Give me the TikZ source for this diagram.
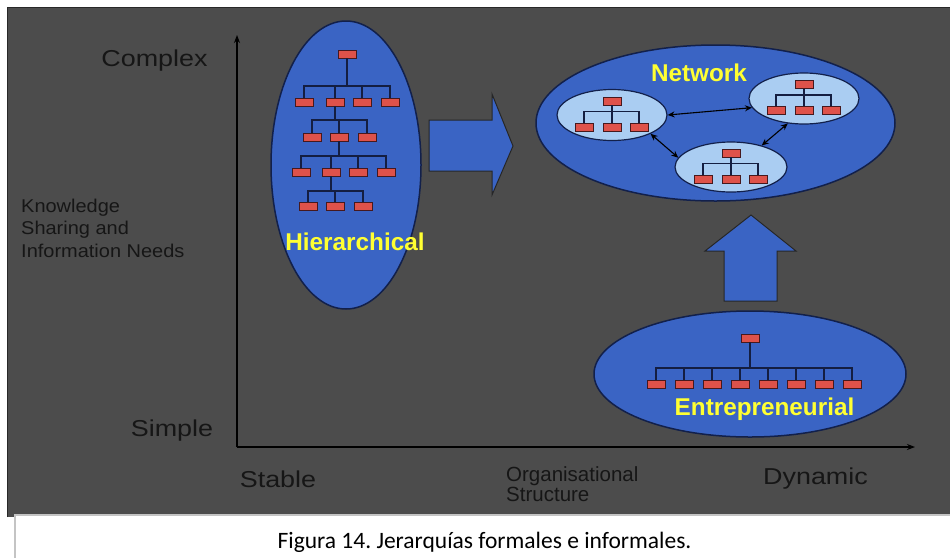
\documentclass[tikz,border=0pt]{standalone}
\usepackage{graphicx}
\usepackage{fontspec}
\setmainfont{Liberation Sans}
\newfontfamily\captionfont{Carlito}
\usetikzlibrary{arrows.meta,shapes.geometric}
\frenchspacing

\definecolor{panelgray}{RGB}{76,76,76}
\definecolor{paneledge}{RGB}{40,40,40}
\definecolor{capedge}{RGB}{196,196,196}
\definecolor{ovalblue}{RGB}{58,100,196}
\definecolor{ovaledge}{RGB}{18,32,75}
\definecolor{paleblue}{RGB}{170,205,242}
\definecolor{boxred}{RGB}{222,82,74}
\definecolor{boxedge}{RGB}{70,25,30}
\definecolor{linenavy}{RGB}{20,30,65}
\definecolor{titleyellow}{RGB}{255,255,50}
\definecolor{labelink}{RGB}{22,22,22}

\newcommand{\widetext}[1]{\scalebox{1.17}[1]{#1}}
\newcommand{\smallwide}[1]{\scalebox{1.08}[1]{#1}}

\tikzset{
  orgbox/.style={rectangle, minimum width=18pt, minimum height=8pt, inner sep=0pt,
    fill=boxred, draw=boxedge, line width=0.8pt},
  orgline/.style={draw=linenavy, line width=1.3pt},
  bigoval/.style={ellipse, fill=ovalblue, draw=ovaledge, line width=1.5pt, inner sep=0pt},
  suboval/.style={ellipse, fill=paleblue, draw=ovaledge, line width=1.2pt, inner sep=0pt,
    minimum width=110pt, minimum height=51pt},
  ovaltitle/.style={text=titleyellow, font=\bfseries\fontsize{24.3}{28}\selectfont, inner sep=0pt},
  axislabel/.style={text=labelink, font=\fontsize{23}{27}\selectfont, inner sep=0pt},
  smalllabel/.style={text=labelink, inner sep=0pt, align=left},
  blockarrow/.style={fill=ovalblue, draw=black!85, line width=1pt, line join=miter},
  link/.style={{Stealth[length=7pt,width=6pt]}-{Stealth[length=7pt,width=6pt]}, line width=1.1pt, black},
  axisline/.style={-{Stealth[length=8pt,width=6pt]}, line width=1.1pt, black},
}

\begin{document}
\begin{tikzpicture}[x=1pt,y=-1pt]
\useasboundingbox (0,0) rectangle (950,558);
\fill[white] (0,0) rectangle (950,558);

% dark panel
\fill[panelgray] (7,7) rectangle (950,517);
\draw[paneledge, line width=1pt] (7.5,517) -- (7.5,7.5) -- (950,7.5);

% axes
\coordinate (origin) at (237,447);
\coordinate (ytip) at (237,35);
\coordinate (xtip) at (915,447);
\draw[axisline] (origin) -- (ytip);
\draw[axisline] (origin) -- (xtip);

% axis labels
\node[axislabel, anchor=base] (complex) at (154.5,66) {\widetext{Complex}};
\node[axislabel, anchor=base] (simple) at (172,436) {\widetext{Simple}};
\node[axislabel, anchor=base] (stable) at (278,487) {\widetext{Stable}};
\node[axislabel, anchor=base] (dynamic) at (815.5,484.5) {\widetext{Dynamic}};
\node[smalllabel, font=\fontsize{18.5}{22.2}\selectfont, anchor=north west] (ylabel) at (21,199)
  {\smallwide{Knowledge}\\\smallwide{Sharing and}\\\smallwide{Information Needs}};
\node[smalllabel, font=\fontsize{20.5}{20}\selectfont, anchor=north west] (xlabel) at (506,466)
  {Organisational\\Structure};

% ---------- hierarchical organisation ----------
\node[bigoval, minimum width=150pt, minimum height=288pt] (hier) at (346,165) {};

\node[orgbox] (h0) at (347,54) {};
\coordinate (hj0) at (347,86);
\node[orgbox] (h1a) at (304,102) {};
\node[orgbox] (h1b) at (335,102) {};
\node[orgbox] (h1c) at (362,102) {};
\node[orgbox] (h1d) at (390,102) {};
\draw[orgline] (h0) -- (hj0);
\foreach \c in {h1a,h1b,h1c,h1d} \draw[orgline] (hj0) -| (\c.north);

\coordinate (hj1) at (335,120);
\node[orgbox] (h2a) at (312,137) {};
\node[orgbox] (h2b) at (339,137) {};
\node[orgbox] (h2c) at (367,137) {};
\draw[orgline] (h1b) -- (hj1);
\foreach \c in {h2a,h2b,h2c} \draw[orgline] (hj1) -| (\c.north);

\coordinate (hj2) at (339,156);
\node[orgbox] (h3a) at (301,172) {};
\node[orgbox] (h3b) at (331,172) {};
\node[orgbox] (h3c) at (358,172) {};
\node[orgbox] (h3d) at (386,172) {};
\draw[orgline] (h2b) -- (hj2);
\foreach \c in {h3a,h3b,h3c,h3d} \draw[orgline] (hj2) -| (\c.north);

\coordinate (hj3) at (331,191);
\node[orgbox] (h4a) at (308,206) {};
\node[orgbox] (h4b) at (335,206) {};
\node[orgbox] (h4c) at (363,206) {};
\draw[orgline] (h3b) -- (hj3);
\foreach \c in {h4a,h4b,h4c} \draw[orgline] (hj3) -| (\c.north);

\node[ovaltitle, anchor=base] (hiertitle) at (355,250) {Hierarchical};

% block arrow: hierarchical -> network
\draw[blockarrow] (429,120) -- (492,120) -- (492,94) -- (513,146) -- (492,195)
  -- (492,171) -- (429,171) -- cycle;

% ---------- network organisation ----------
\node[bigoval, minimum width=359pt, minimum height=156pt] (net) at (715.5,123) {};
\node[ovaltitle, anchor=base] (nettitle) at (699,81.5) {Network};

\node[suboval] (nl) at (612,115) {};
\node[suboval] (nr) at (804,98.5) {};
\node[suboval, minimum width=112pt, minimum height=50pt] (nb) at (731,167) {};

% left unit
\node[orgbox] (nl0) at (612,101) {};
\coordinate (nlj) at (612,111.5);
\node[orgbox] (nla) at (584,127) {};
\node[orgbox] (nlb) at (612,127) {};
\node[orgbox] (nlc) at (639,127) {};
\draw[orgline] (nl0) -- (nlj);
\foreach \c in {nla,nlb,nlc} \draw[orgline] (nlj) -| (\c.north);

% right unit
\node[orgbox] (nr0) at (804,84.5) {};
\coordinate (nrj) at (804,95);
\node[orgbox] (nra) at (776,110.5) {};
\node[orgbox] (nrb) at (804,110.5) {};
\node[orgbox] (nrc) at (831,110.5) {};
\draw[orgline] (nr0) -- (nrj);
\foreach \c in {nra,nrb,nrc} \draw[orgline] (nrj) -| (\c.north);

% bottom unit
\node[orgbox] (nb0) at (731,153) {};
\coordinate (nbj) at (731,163.5);
\node[orgbox] (nba) at (703,179) {};
\node[orgbox] (nbb) at (731,179) {};
\node[orgbox] (nbc) at (758,179) {};
\draw[orgline] (nb0) -- (nbj);
\foreach \c in {nba,nbb,nbc} \draw[orgline] (nbj) -| (\c.north);

% links between units
\draw[link] (nl.east) -- (nr.190);
\draw[link] (nl.334) -- (nb.170);
\draw[link] (nb.35) -- (nr.237);

% block arrow: entrepreneurial -> network
\draw[blockarrow] (724,301) -- (724,251) -- (705,251) -- (751,215) -- (796,251)
  -- (777,251) -- (777,301) -- cycle;

% ---------- entrepreneurial organisation ----------
\node[bigoval, minimum width=312pt, minimum height=126pt] (entr) at (750,374) {};
\node[orgbox] (etop) at (750,338) {};
\coordinate (ej) at (750,368);
\draw[orgline] (etop) -- (ej);
\foreach \i in {0,...,7} {
  \node[orgbox] (e\i) at (656+28*\i,384) {};
  \draw[orgline] (ej) -| (e\i.north);
}
\node[ovaltitle, anchor=base] (entrtitle) at (764.5,415) {Entrepreneurial};

% caption
\fill[white] (14,514) rectangle (950,558);
\draw[capedge, line width=1.5pt] (14.75,558) -- (14.75,514.75) -- (950,514.75);
\node[inner sep=0pt, anchor=base, font=\captionfont\fontsize{23.5}{28}\selectfont, text=black]
  (caption) at (484.5,548) {Figura 14. Jerarquías formales e informales.};
\end{tikzpicture}
\end{document}
